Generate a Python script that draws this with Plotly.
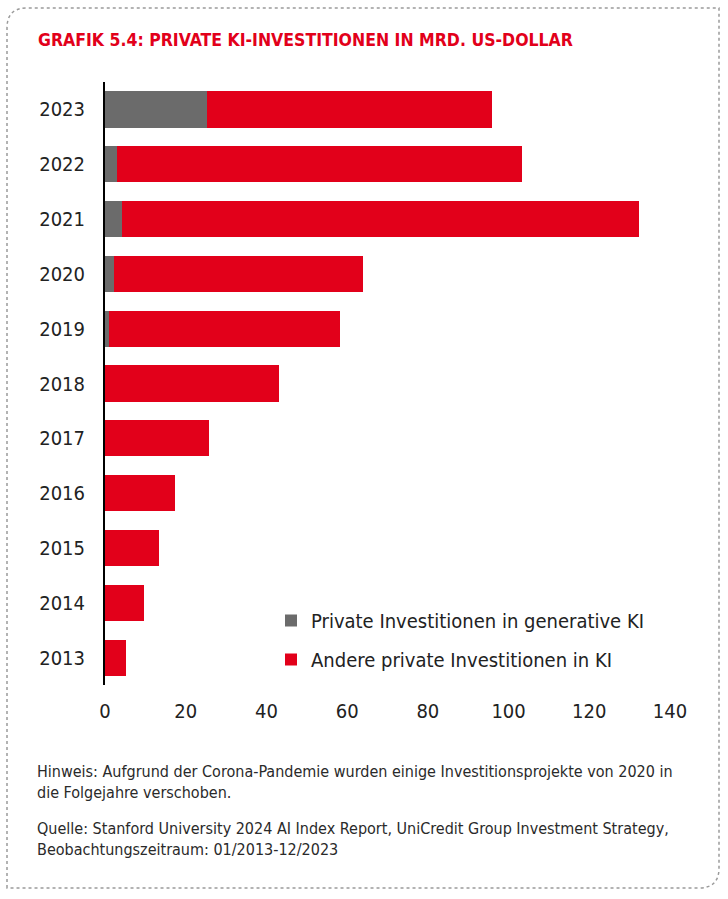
import plotly.graph_objects as go

years = ["2013", "2014", "2015", "2016", "2017", "2018", "2019", "2020", "2021", "2022", "2023"]
generative = [0.0, 0.0, 0.0, 0.0, 0.0, 0.0, 0.9, 2.2, 4.2, 2.9, 25.2]
total = [5.2, 9.7, 13.4, 17.3, 25.8, 43.1, 58.2, 63.9, 132.3, 103.3, 95.9]
other = [round(t - g, 1) for t, g in zip(total, generative)]

x_ticks = [0, 20, 40, 60, 80, 100, 120, 140]

title_text = "GRAFIK 5.4: PRIVATE KI-INVESTITIONEN IN MRD. US-DOLLAR"
note_lines = [
    "Hinweis: Aufgrund der Corona-Pandemie wurden einige Investitionsprojekte von 2020 in",
    "die Folgejahre verschoben.",
]
source_lines = [
    "Quelle: Stanford University 2024 AI Index Report, UniCredit Group Investment Strategy,",
    "Beobachtungszeitraum: 01/2013-12/2023",
]

RED = "#E2001A"
GRAY = "#6B6B6B"
FONT = "DejaVu Sans Condensed, Liberation Sans Narrow, sans-serif"

W, H = 728, 899
L, R, T, B = 105, 58, 82, 214
pw, ph = W - L - R, H - T - B


def px(x):
    return (x - L) / pw


def py(y):
    return (H - B - y) / ph


fig = go.Figure()
fig.add_trace(go.Bar(
    y=years, x=generative, orientation="h", name="Private Investitionen in generative KI",
    marker=dict(color=GRAY, line=dict(width=0)), legendgroup="a",
))
fig.add_trace(go.Bar(
    y=years, x=other, orientation="h", name="Andere private Investitionen in KI",
    marker=dict(color=RED, line=dict(width=0)), legendgroup="b",
))

# dotted frame with rounded top-left and bottom-right corners
x0, x1, y0, y1, r = 7, 719, 8, 888, 20
path = (
    f"M {px(x0)},{py(y1)} L {px(x0)},{py(y0 + r)} "
    f"Q {px(x0)},{py(y0)} {px(x0 + r)},{py(y0)} "
    f"L {px(x1)},{py(y0)} L {px(x1)},{py(y1 - r)} "
    f"Q {px(x1)},{py(y1)} {px(x1 - r)},{py(y1)} Z"
)

annotations = [
    dict(text=title_text, x=px(36), y=py(40), xref="paper", yref="paper",
         xanchor="left", yanchor="middle", showarrow=False,
         font=dict(family=FONT, size=17.5, color=RED, weight="bold")),
    dict(text="<br>".join(note_lines), x=px(35), y=py(760), xref="paper", yref="paper",
         xanchor="left", yanchor="top", showarrow=False, align="left",
         font=dict(family=FONT, size=16, color="#2a2a2a")),
    dict(text="<br>".join(source_lines), x=px(35), y=py(817), xref="paper", yref="paper",
         xanchor="left", yanchor="top", showarrow=False, align="left",
         font=dict(family=FONT, size=16, color="#2a2a2a")),
]

fig.update_layout(
    width=W, height=H,
    margin=dict(l=L, r=R, t=T, b=B, pad=0),
    paper_bgcolor="white", plot_bgcolor="white",
    barmode="stack", bargap=0.34,
    font=dict(family=FONT, size=19, color="#222222"),
    showlegend=True,
    legend=dict(x=px(271), y=py(601), xanchor="left", yanchor="top",
                traceorder="grouped", tracegroupgap=10,
                font=dict(family=FONT, size=20, color="#222222"),
                bgcolor="rgba(0,0,0,0)"),
    xaxis=dict(range=[0, 140], tickvals=x_ticks, showgrid=False, zeroline=False,
               showline=False, ticks="", ticklabelstandoff=12,
               tickfont=dict(size=20), fixedrange=True),
    yaxis=dict(showline=True, linecolor="black", linewidth=2, showgrid=False,
               ticks="", ticklabelstandoff=14, tickfont=dict(size=20)),
    shapes=[dict(type="path", path=path, xref="paper", yref="paper",
                 line=dict(color="#9a9a9a", width=1.5, dash="dot"))],
    annotations=annotations,
)

fig.write_html("out.html", config={"displayModeBar": False})

# remove the browser's default page margin so the figure sits at (0, 0)
with open("out.html", "r", encoding="utf-8") as f:
    html = f.read()
html = html.replace("<head>", "<head><style>html,body{margin:0;padding:0;}</style>", 1)
with open("out.html", "w", encoding="utf-8") as f:
    f.write(html)
